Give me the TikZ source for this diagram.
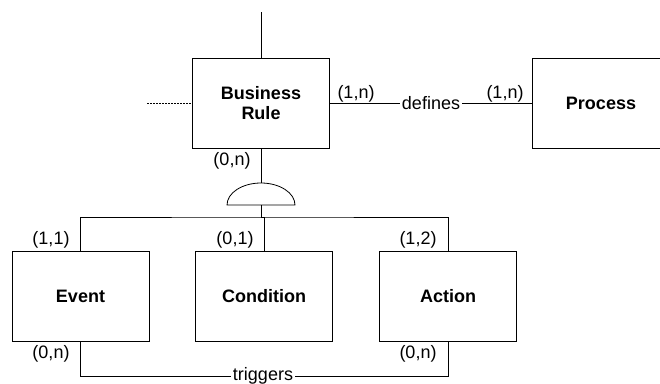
\documentclass[tikz,border=0pt]{standalone}
\usepackage{fontspec}
\setmainfont{Liberation Sans}
\tikzset{
  entity/.style={draw, line width=0.8pt, minimum width=137pt, minimum height=90pt,
    inner sep=0pt, align=center, font=\fontsize{18}{20}\selectfont\bfseries},
  card/.style={inner sep=0pt, font=\fontsize{18}{20}\selectfont},
  rel/.style={inner sep=2pt, font=\fontsize{18}{20}\selectfont},
  conn/.style={line width=0.8pt}
}
\begin{document}
\begin{tikzpicture}[x=1pt, y=-1pt]
\useasboundingbox (0,0) rectangle (660,383);
\clip (0,0) rectangle (660,383);

% entities
\node[entity] (br) at (261,103) {Business\\Rule};
\node[entity] (pr) at (601,103) {Process};
\node[entity] (ev) at (80.5,296) {Event};
\node[entity] (co) at (264,296) {Condition};
\node[entity] (ac) at (448,296) {Action};

% relationship names
\node[rel] (def) at (431,103) {defines};
\node[rel] (trig) at (263,376) {triggers};

% connection points
\coordinate (top) at (261,12);
\coordinate (dl) at (147,103);
\coordinate (stop) at (261,183);
\coordinate (sbot) at (261,205);
\coordinate (junc) at (261,217);

% lines of Business Rule
\draw[conn] (top) -- (br.north);
\draw[conn, dash pattern=on 2pt off 1pt, line width=0.6pt] (dl) -- (br.west);
\draw[conn] (br.east) -- (def.west);
\draw[conn] (def.east) -- (pr.west);

% generalisation with half disc (y axis points down)
\draw[conn] (br.south) -- (stop);
\draw[conn] (sbot) ++(-34,0) arc[start angle=180, end angle=360, x radius=34, y radius=22] -- cycle;
\draw[conn] (sbot) -- (junc);
\draw[conn] (ev.north) |- (junc) -| (ac.north);
\draw[conn] (junc) -| (co.north);

% triggers between Event and Action
\draw[conn] (ev.south) |- (trig.west);
\draw[conn] (trig.east) -| (ac.south);

% cardinalities
\node[card] at (356,94) {(1,n)};
\node[card] at (505,94) {(1,n)};
\node[card] at (232,161) {(0,n)};
\node[card] at (51,240) {(1,1)};
\node[card] at (235,240) {(0,1)};
\node[card] at (418,240) {(1,2)};
\node[card] at (51,354) {(0,n)};
\node[card] at (418,354) {(0,n)};
\end{tikzpicture}
\end{document}
